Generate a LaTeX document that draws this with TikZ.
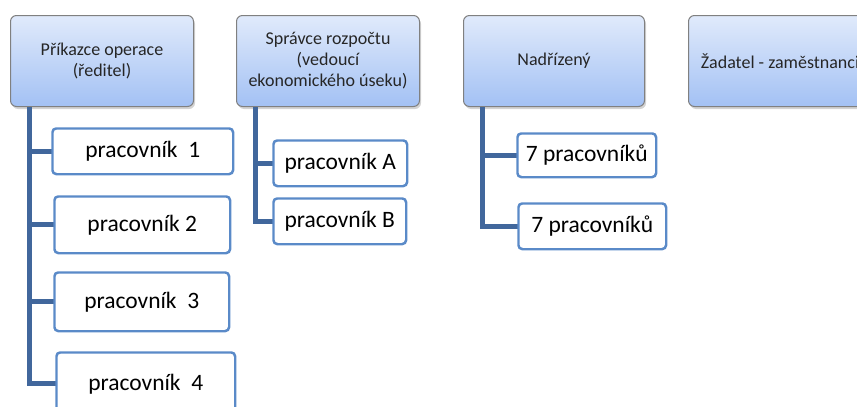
\documentclass[tikz,border=0pt]{standalone}
\usepackage{fontspec}
\setmainfont{Carlito}
\usetikzlibrary{shadows}
\definecolor{connc}{HTML}{41679C}
\definecolor{childc}{HTML}{5A8AC8}
\definecolor{topc}{HTML}{E0EAFB}
\definecolor{botc}{HTML}{A3C1F4}
\definecolor{topborder}{HTML}{808080}
\tikzset{
  topbox/.style={draw=topborder, line width=1pt, rounded corners=6pt,
    top color=topc, bottom color=botc,
    drop shadow={opacity=0.35, shadow xshift=1.5pt, shadow yshift=-2.5pt},
    align=center, inner sep=0pt, anchor=north west,
    font=\fontsize{18}{21}\selectfont, text=black!85},
  childbox/.style={draw=childc, line width=1.5pt, rounded corners=4pt, fill=white,
    align=center, inner sep=0pt, anchor=north west,
    font=\fontsize{23.5}{27}\selectfont, text=black},
  conn/.style={draw=connc, line width=5pt}
}
\begin{document}
\begin{tikzpicture}[x=1pt,y=-1pt]
\useasboundingbox (0,0) rectangle (857,407);
\clip (0,0) rectangle (857,407);
\node[topbox, minimum width=183pt, minimum height=91pt] (p1) at (10,15) {Příkazce operace\\(ředitel)};
\node[topbox, minimum width=183pt, minimum height=91pt] (p2) at (236,15) {Správce rozpočtu\\(vedoucí\\ekonomického úseku)};
\node[topbox, minimum width=181pt, minimum height=91pt] (p3) at (463,15) {Nadřízený};
\node[topbox, minimum width=183pt, minimum height=91pt] (p4) at (688,15) {Žadatel - zaměstnanci};

\coordinate (v1) at ([xshift=19pt]p1.south west);
\coordinate (v2) at ([xshift=19pt]p2.south west);
\coordinate (v3) at ([xshift=19pt]p3.south west);

\node[childbox, minimum width=180pt, minimum height=45pt] (c1) at (52,128) {pracovník\ \ 1};
\node[childbox, minimum width=175pt, minimum height=56pt] (c2) at (54,196) {pracovník 2};
\node[childbox, minimum width=174pt, minimum height=58pt] (c3) at (54,272) {pracovník\ \ 3};
\node[childbox, minimum width=178pt, minimum height=62pt] (c4) at (56,352) {pracovník\ \ 4};

\node[childbox, minimum width=133pt, minimum height=45pt] (a) at (273,140) {pracovník A};
\node[childbox, minimum width=132pt, minimum height=45pt] (b) at (273,198) {pracovník B};

\node[childbox, minimum width=138pt, minimum height=43pt] (n1) at (517,133) {7 pracovníků};
\node[childbox, minimum width=147pt, minimum height=45pt] (n2) at (518,203) {7 pracovníků};

\draw[conn] (v1) |- (c4.west);
\draw[conn] (v1) |- (c1.west);
\draw[conn] (v1) |- (c2.west);
\draw[conn] (v1) |- (c3.west);
\draw[conn] (v2) |- (b.west);
\draw[conn] (v2) |- (a.west);
\draw[conn] (v3) |- (n2.west);
\draw[conn] (v3) |- (n1.west);
% redraw child outlines over connector ends
\foreach \n in {c1,c2,c3,c4,a,b,n1,n2}{
  \draw[draw=childc, line width=1.5pt, rounded corners=4pt] (\n.north west) rectangle (\n.south east);
}
\end{tikzpicture}
\end{document}
